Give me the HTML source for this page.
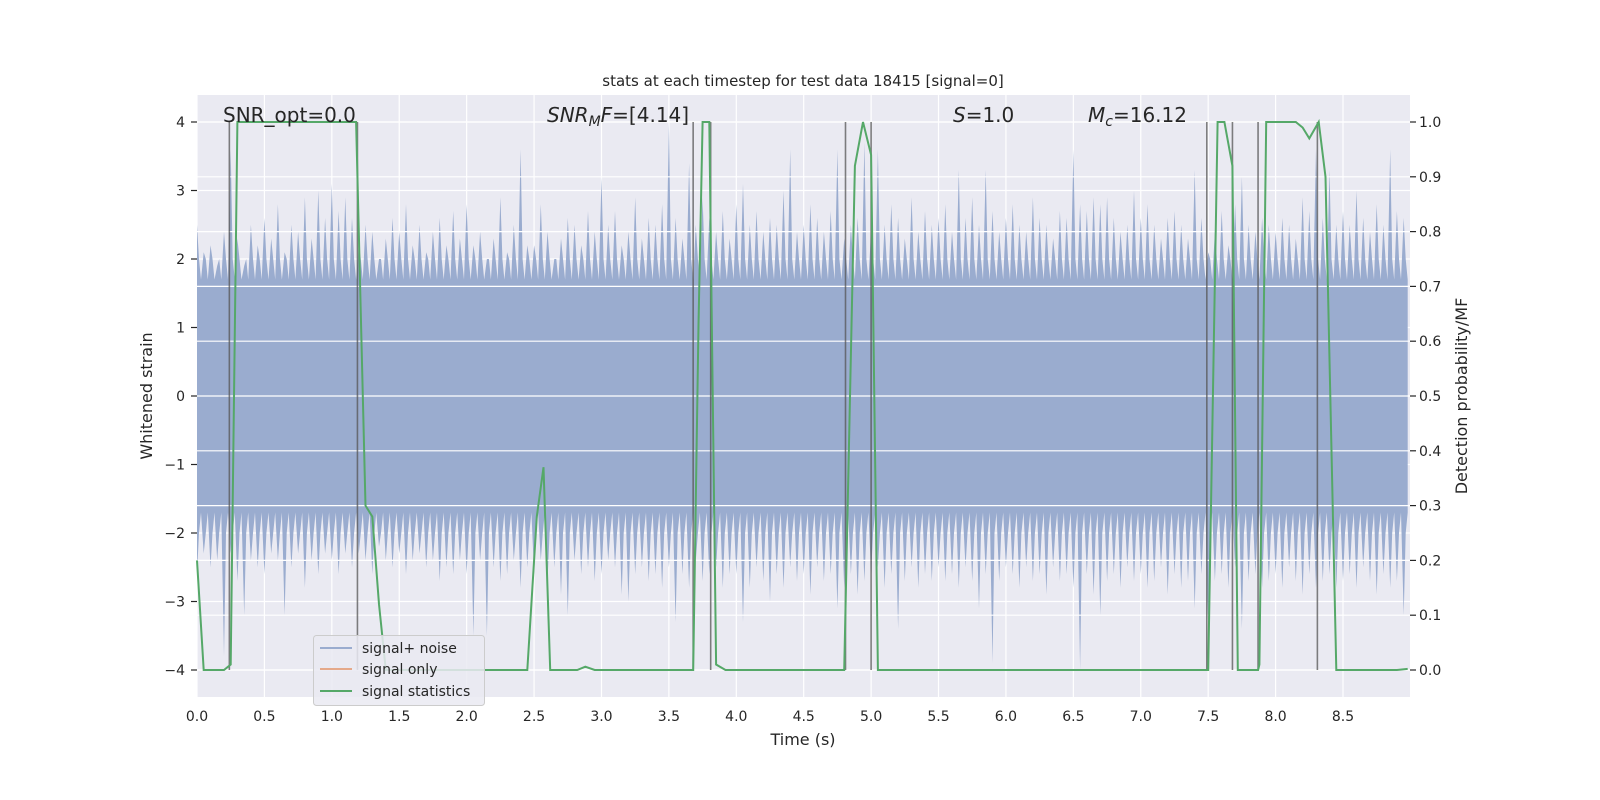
<!DOCTYPE html>
<html><head><meta charset="utf-8"><style>
html,body{margin:0;padding:0;background:#fff;overflow:hidden;width:100%;height:100%;}
svg{display:block;font-family:"DejaVu Sans","Liberation Sans",sans-serif;}
#chart{position:absolute;left:0;top:0;width:100vw;height:100vh;}
</style></head><body>
<svg id="chart" viewBox="0 0 1600 800" preserveAspectRatio="none">
<g id="marks"></g>
<text x="803" y="86" font-size="15" text-anchor="middle" fill="#262626">stats at each timestep for test data 18415 [signal=0]</text>
<text x="803" y="745" font-size="16" text-anchor="middle" fill="#262626">Time (s)</text>
<text transform="translate(152,396) rotate(-90)" font-size="16" text-anchor="middle" fill="#262626">Whitened strain</text>
<text transform="translate(1467,396) rotate(-90)" font-size="16" text-anchor="middle" fill="#262626">Detection probability/MF</text>
<g font-size="20" fill="#262626">
<text x="223" y="122">SNR_opt=0.0</text>
<text x="547" y="122"><tspan font-style="italic">SNR</tspan><tspan font-style="italic" font-size="14" dy="4">M</tspan><tspan font-style="italic" dy="-4">F</tspan>=[4.14]</text>
<text x="953" y="122"><tspan font-style="italic">S</tspan>=1.0</text>
<text x="1088" y="122"><tspan font-style="italic">M</tspan><tspan font-style="italic" font-size="14" dy="4">c</tspan><tspan dy="-4">=16.12</tspan></text>
</g>
<g font-size="14" fill="#262626">
<rect x="313.5" y="635.5" width="171" height="70" rx="3" fill="#eaeaf2" fill-opacity="0.85" stroke="#ccc"/>
<line x1="320" x2="352" y1="648" y2="648" stroke="#9aaccf" stroke-width="2"/>
<text x="362" y="653">signal+ noise</text>
<line x1="320" x2="352" y1="669" y2="669" stroke="#e5a98a" stroke-width="2"/>
<text x="362" y="674">signal only</text>
<line x1="320" x2="352" y1="691" y2="691" stroke="#55a868" stroke-width="2"/>
<text x="362" y="696">signal statistics</text>
</g>
</svg>
<script>
const times = [0,0.05,0.2,0.25,0.3,1.18,1.25,1.3,1.35,1.4,2.45,2.52,2.57,2.62,2.82,2.88,2.95,3.68,3.72,3.75,3.8,3.85,3.92,4.8,4.88,4.94,5.0,5.05,7.5,7.57,7.62,7.68,7.72,7.87,7.88,7.93,8.15,8.2,8.25,8.32,8.37,8.45,8.9,8.98];
const probs = [0.2,0,0,0.01,1.0,1.0,0.3,0.28,0.12,0,0,0.28,0.37,0,0,0.006,0,0,0.63,1.0,1.0,0.01,0,0,0.92,1.0,0.94,0,0,1.0,1.0,0.92,0,0,0.01,1.0,1.0,0.99,0.97,1.0,0.9,0,0,0.002];
const vlines = [0.24,1.19,3.68,3.81,4.81,5.0,7.49,7.68,7.87,8.31];
const upperEnv = [2.5,2.1,2.2,1.9,2.4,3.6,2.3,1.9,2.5,2.2,2.6,2.3,2.8,2.1,2.5,2.4,2.9,2.3,3.0,2.6,3.1,2.7,2.9,2.6,2.2,2.5,2.4,2.0,2.3,2.6,2.4,2.8,2.2,2.5,2.1,2.4,2.6,2.2,2.7,2.3,2.8,2.2,2.4,2.0,2.3,2.9,2.1,2.5,3.6,2.2,2.2,2.8,2.4,2.0,2.3,2.6,2.5,2.2,2.7,2.4,3.2,2.5,2.7,2.2,2.4,2.9,2.3,2.6,2.5,2.8,4.0,2.6,2.3,3.4,2.5,2.9,2.6,2.4,2.7,2.3,2.8,3.1,2.5,2.7,2.4,2.6,2.5,3.0,3.6,2.4,2.5,2.8,2.6,2.4,2.7,3.6,2.3,2.5,2.6,3.7,2.4,3.6,2.5,2.8,2.6,2.3,2.9,2.4,2.7,2.5,2.6,2.8,2.4,3.3,2.6,2.9,2.5,3.3,2.7,2.4,2.6,2.8,2.5,2.4,2.9,2.6,2.5,2.3,2.7,2.6,3.6,2.8,2.7,2.9,2.8,2.9,2.6,2.4,2.5,3.0,2.6,2.8,2.5,2.3,2.6,2.7,2.5,2.3,3.3,2.6,2.1,2.4,2.7,2.2,2.8,3.2,2.5,2.4,2.6,2.5,2.4,2.6,2.5,2.3,2.9,2.7,3.6,2.6,3.3,2.5,2.7,2.5,3.0,2.6,2.4,2.8,2.5,3.6,2.7,2.6];
const lowerEnv = [-2.6,-2.3,-2.5,-2.4,-3.8,-2.3,-2.7,-3.2,-2.4,-2.5,-2.6,-2.3,-2.4,-3.2,-2.5,-2.3,-2.8,-2.4,-2.6,-2.3,-2.4,-2.6,-2.3,-2.5,-2.3,-2.4,-2.6,-2.2,-2.4,-2.5,-2.3,-2.6,-2.4,-2.3,-2.5,-2.4,-2.7,-2.5,-2.6,-2.4,-2.6,-3.5,-2.4,-3.5,-2.5,-2.7,-2.6,-2.4,-2.8,-2.5,-2.6,-2.4,-2.7,-2.5,-2.9,-3.2,-2.4,-2.6,-2.5,-2.7,-2.6,-2.4,-2.5,-2.9,-3.0,-2.6,-2.5,-2.7,-2.6,-2.8,-2.5,-3.3,-2.6,-2.8,-2.4,-2.7,-2.6,-2.5,-2.8,-2.6,-2.6,-3.3,-2.8,-2.5,-2.7,-3.0,-2.6,-2.8,-2.5,-2.7,-2.6,-2.9,-2.5,-2.7,-2.6,-3.1,-2.8,-2.6,-2.9,-2.7,-2.6,-2.5,-2.8,-2.6,-3.4,-2.7,-2.5,-2.8,-2.6,-2.7,-2.5,-2.7,-2.6,-2.8,-2.5,-2.7,-3.1,-2.6,-3.9,-2.7,-2.5,-2.6,-2.8,-2.5,-2.7,-2.6,-2.9,-2.5,-2.7,-2.6,-2.8,-4.0,-2.6,-2.9,-3.2,-2.7,-2.6,-2.8,-2.5,-2.7,-2.6,-2.8,-2.7,-2.5,-2.9,-2.6,-2.8,-2.7,-3.1,-2.6,-3.4,-2.7,-2.6,-2.8,-2.5,-3.4,-2.7,-2.6,-2.8,-2.7,-2.6,-2.8,-2.5,-2.7,-2.9,-2.6,-2.8,-2.7,-2.6,-2.8,-2.7,-2.6,-2.8,-2.5,-2.7,-2.9,-2.6,-2.8,-2.7,-3.2];
const envStep = 0.05;
const xTicks = [0,0.5,1,1.5,2,2.5,3,3.5,4,4.5,5,5.5,6,6.5,7,7.5,8,8.5];
const yTicks = [-4,-3,-2,-1,0,1,2,3,4];
const y2Ticks = [0,0.1,0.2,0.3,0.4,0.5,0.6,0.7,0.8,0.9,1.0];

const L=197,R=1410,T=95,B=697;
const X=t=>L+t*(1343-197)/8.5;
const Y=v=>396-v*68.5;
const Y2=p=>670-p*548;
const NS='http://www.w3.org/2000/svg';
const svg=document.getElementById('marks');
function mk(tag,attrs){const e=document.createElementNS(NS,tag);for(const k in attrs)e.setAttribute(k,attrs[k]);svg.appendChild(e);return e;}

const bg=mk('rect',{x:L,y:T,width:R-L,height:B-T,fill:'#eaeaf2'});


xTicks.forEach(t=>{const g=mk('line',{x1:X(t),x2:X(t),y1:T,y2:B,stroke:'#fff','stroke-width':1.2});

});
yTicks.forEach(v=>{const g=mk('line',{x1:L,x2:R,y1:Y(v),y2:Y(v),stroke:'#fff','stroke-width':1.2});

});

let pts=[];
upperEnv.forEach((v,i)=>{const t=i*envStep;pts.push([X(t),Y(v)]);pts.push([X(t+envStep*0.3),Y(2.0)]);pts.push([X(t+envStep*0.6),Y(1.7)]);});
let low=[];
lowerEnv.forEach((v,i)=>{const t=i*envStep;low.push([X(t),Y(v)]);low.push([X(t+envStep*0.3),Y(-2.0)]);low.push([X(t+envStep*0.6),Y(-1.7)]);});
low.reverse();
const all=pts.concat(low).map(p=>Math.min(R,p[0]).toFixed(1)+','+p[1].toFixed(1)).join(' ');
const noise=mk('polygon',{points:all,fill:'#9aaccf'});



y2Ticks.forEach(p=>{const g=mk('line',{x1:L,x2:R,y1:Y2(p),y2:Y2(p),stroke:'#fff','stroke-width':1.2});

});

vlines.forEach(t=>{const l=mk('line',{x1:X(t),x2:X(t),y1:Y2(1),y2:Y2(0),stroke:'#555','stroke-width':1.6,'stroke-opacity':0.75});

});

const gp=times.map((t,i)=>X(t).toFixed(1)+','+Y2(probs[i]).toFixed(1)).join(' ');
const gl=mk('polyline',{points:gp,fill:'none',stroke:'#55a868','stroke-width':2});



xTicks.forEach(t=>{const tx=mk('text',{x:X(t),y:721,'font-size':14,'text-anchor':'middle',fill:'#262626'});tx.textContent=t.toFixed(1);

});
yTicks.forEach(v=>{mk('line',{x1:L-6,x2:L,y1:Y(v),y2:Y(v),stroke:'#262626','stroke-width':1.2});
const tx=mk('text',{x:L-12,y:Y(v)+5,'font-size':14,'text-anchor':'end',fill:'#262626'});tx.textContent=(v<0?'\u2212'+(-v):v);

});
y2Ticks.forEach(p=>{mk('line',{x1:R,x2:R+6,y1:Y2(p),y2:Y2(p),stroke:'#262626','stroke-width':1.2});
const tx=mk('text',{x:R+9,y:Y2(p)+5,'font-size':14,fill:'#262626'});tx.textContent=p.toFixed(1);

});
</script>
</body></html>
